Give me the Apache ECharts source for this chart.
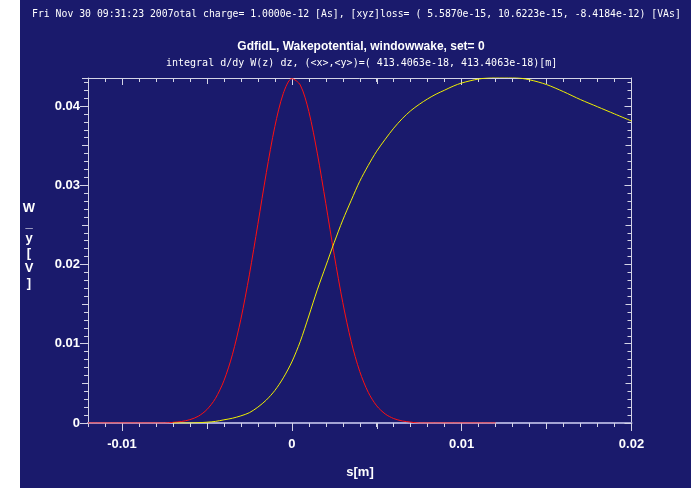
<!DOCTYPE html>
<html>
<head>
<meta charset="utf-8">
<script src="https://cdn.jsdelivr.net/npm/echarts@6/dist/echarts.min.js"></script>
<style>
  html,body{margin:0;padding:0;background:#ffffff;}
  #chart{width:691px;height:488px;}
</style>
</head>
<body>
<div id="chart"></div>
<script>
// ---- data ----
const headerText = "Fri Nov 30 09:31:23 2007otal charge= 1.0000e-12 [As], [xyz]loss= ( 5.5870e-15, 10.6223e-15, -8.4184e-12) [VAs]";
const titleText = "GdfidL, Wakepotential, windowwake, set= 0";
const subtitleText = "integral d/dy W(z) dz, (<x>,<y>)=( 413.4063e-18, 413.4063e-18)[m]";
const xAxisName = "s[m]";
const yAxisName = ["W", "_", "y", "[", "V", "]"];

const xRange = [-0.012, 0.02];
const xLabelRange = [-0.01, 0.02];
const yRange = [0, 0.04353];
const xTickLabels = [-0.01, 0, 0.01, 0.02];
const yTickLabels = [0, 0.01, 0.02, 0.03, 0.04];

// red: charge distribution
const redX = [-0.012, -0.0075, -0.007, -0.0065, -0.006, -0.0055, -0.005, -0.0045, -0.004, -0.0035, -0.003, -0.0025, -0.002, -0.0015, -0.001, -0.0005,
  0, 0.0005, 0.001, 0.0015, 0.002, 0.0025, 0.003, 0.0035, 0.004, 0.0045, 0.005, 0.0055, 0.006, 0.0065, 0.007, 0.0075, 0.012];
const redY = [0, 0, 0.00008, 0.00019, 0.00042, 0.00086, 0.00169, 0.00309, 0.00532, 0.00861, 0.01309, 0.01869, 0.02507, 0.03159, 0.0374, 0.04159,
  0.04345, 0.04264, 0.03932, 0.03405, 0.02771, 0.02118, 0.0152, 0.01025, 0.0065, 0.00387, 0.00216, 0.00114, 0.00056, 0.00026, 0.00011, 0, 0];

// yellow: transverse wake potential
const yelX = [-0.007, -0.006, -0.005, -0.0045, -0.004, -0.0035, -0.003, -0.0025, -0.002, -0.0015, -0.001, -0.0005,
  0, 0.0005, 0.001, 0.0015, 0.002, 0.0025, 0.003, 0.0035, 0.004, 0.0045, 0.005, 0.0055, 0.006, 0.0065, 0.007, 0.0075, 0.008, 0.0085, 0.009, 0.0095, 0.010, 0.011,
  0.012, 0.013, 0.014, 0.015, 0.016, 0.017, 0.018, 0.019, 0.020];
const yelY = [0, 0, 0.0001, 0.0002, 0.0004, 0.0006, 0.0009, 0.0013, 0.002, 0.0029, 0.0041, 0.0057,
  0.0077, 0.0103, 0.0135, 0.0168, 0.0198, 0.0228, 0.0256, 0.0281, 0.0305, 0.0325, 0.0343, 0.0358, 0.0372, 0.0384, 0.0394, 0.0402, 0.0409, 0.0415, 0.042, 0.0425, 0.0429, 0.0434,
  0.0436, 0.0436, 0.0433, 0.0427, 0.0418, 0.0408, 0.0399, 0.039, 0.0381];

// ---- chart ----
const BG = '#1a1a6c';
const LINE = '#d4d4e6';
const AXB = '#a4a4d4';
const FG = '#ffffff';
const plotGrid = {left: 88, right: 59.5, top: 78, bottom: 65};
// grid whose left edge sits at x = -0.01 so major/medium ticks start on round values
const labelGrid = {left: 122, right: 59.5, top: 78, bottom: 65};

function fmtTicks(list) {
  return function (v) {
    for (const t of list) { if (Math.abs(v - t) < 1e-9) return String(t); }
    return '';
  };
}
const labelFont = {color: FG, fontFamily: 'Liberation Sans', fontSize: 13, fontWeight: 'bold'};

function xAx(grid, range, pos, interval, len, inside, labels, showLine) {
  return {
    type: 'value', gridIndex: grid, position: pos, min: range[0], max: range[1], interval: interval,
    axisLine: {show: showLine, onZero: false, lineStyle: {color: pos === 'bottom' ? AXB : LINE, width: pos === 'bottom' ? 2 : 1}},
    axisTick: {show: true, inside: inside, length: len, lineStyle: {color: LINE, width: 1}},
    axisLabel: labels ? Object.assign({show: true, margin: 15, formatter: fmtTicks(xTickLabels)}, labelFont) : {show: false},
    splitLine: {show: false}
  };
}
function yAx(grid, pos, interval, len, inside, labels, showLine) {
  return {
    type: 'value', gridIndex: grid, position: pos, min: yRange[0], max: yRange[1], interval: interval,
    axisLine: {show: showLine, onZero: false, lineStyle: {color: LINE, width: 1}},
    axisTick: {show: true, inside: inside, length: len, lineStyle: {color: LINE, width: 1}},
    axisLabel: labels ? Object.assign({show: true, margin: 8, formatter: fmtTicks(yTickLabels), showMaxLabel: false}, labelFont) : {show: false},
    splitLine: {show: false}
  };
}

const xAxes = [
  xAx(0, xRange, 'bottom', 0.001, 4, false, false, true),
  xAx(0, xRange, 'top', 0.001, 4, true, false, true),
  xAx(1, xLabelRange, 'bottom', 0.01, 8, false, true, false),
  xAx(1, xLabelRange, 'top', 0.01, 7, true, false, false),
  xAx(2, xLabelRange, 'bottom', 0.005, 6, false, false, false),
  xAx(2, xLabelRange, 'top', 0.005, 6, true, false, false)
];
const yAxes = [
  yAx(0, 'left', 0.001, 4, false, false, true),
  yAx(0, 'right', 0.001, 4, true, false, true),
  yAx(1, 'left', 0.01, 8, false, false, false),
  yAx(1, 'right', 0.01, 7, true, false, false),
  yAx(2, 'left', 0.005, 6, false, false, false),
  yAx(2, 'right', 0.005, 6, true, false, false),
  yAx(0, 'left', 0.01, 8, false, true, false),
  yAx(0, 'left', 0.005, 6, false, false, false),
  yAx(0, 'right', 0.01, 7, true, false, false),
  yAx(0, 'right', 0.005, 6, true, false, false)
];
// y axes of helper grids 1 and 2 are invisible
for (let i = 2; i <= 5; i++) yAxes[i].axisTick.show = false;

const chart = echarts.init(document.getElementById('chart'), null, {renderer: 'canvas'});
chart.setOption({
  backgroundColor: BG,
  animation: false,
  grid: [plotGrid, labelGrid, labelGrid],
  xAxis: xAxes,
  yAxis: yAxes,
  graphic: [
    {type: 'rect', left: 0, top: 0, shape: {width: 20, height: 488}, style: {fill: '#ffffff'}, z: 100},
    {type: 'text', x: 32, y: 14, style: {text: headerText, fill: FG, font: '9.8px "DejaVu Sans Mono"', textVerticalAlign: 'middle'}},
    {type: 'text', x: 361, y: 47, style: {text: titleText, fill: FG, font: 'bold 12px "Liberation Sans"', textAlign: 'center', textVerticalAlign: 'middle'}},
    {type: 'text', x: 166, y: 63, style: {text: subtitleText, fill: FG, font: '10px "DejaVu Sans Mono"', textVerticalAlign: 'middle'}},
    {type: 'text', x: 360, y: 472, style: {text: xAxisName, fill: FG, font: 'bold 13px "Liberation Sans"', textAlign: 'center', textVerticalAlign: 'middle'}},
    {type: 'text', x: 29, y: 246, style: {text: yAxisName.join('\n'), fill: FG, font: 'bold 13px "Liberation Sans"', textAlign: 'center', textVerticalAlign: 'middle', lineHeight: 15}}
  ],
  series: [
    {type: 'line', name: 'charge', xAxisIndex: 0, yAxisIndex: 0, showSymbol: false, symbol: 'none',
      smooth: 0.3,
      lineStyle: {color: '#ff1010', width: 1}, data: redX.map((x, i) => [x, redY[i]]), z: 3},
    {type: 'line', name: 'wake', xAxisIndex: 0, yAxisIndex: 0, showSymbol: false, symbol: 'none',
      smooth: 0.3,
      lineStyle: {color: '#f0f000', width: 1}, data: yelX.map((x, i) => [x, yelY[i]]), z: 4}
  ]
});
</script>
</body>
</html>
